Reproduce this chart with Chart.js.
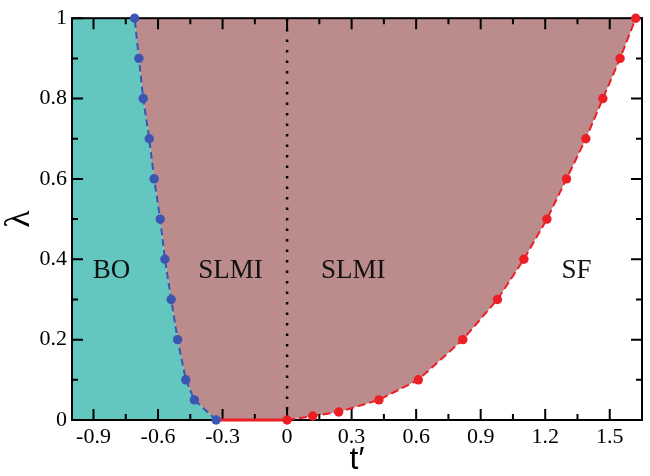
<!DOCTYPE html>
<html>
<head>
<meta charset="utf-8">
<script src="https://cdn.jsdelivr.net/npm/chart.js@4.4.0/dist/chart.umd.min.js"></script>
<style>
    html, body { margin: 0; padding: 0; background: #fff; }
    #wrap { width: 650px; height: 476px; }
</style>
</head>
<body>
<div id="wrap"><canvas id="phase-chart"></canvas></div>
<script>
// BO / SLMI boundary (blue)
const boLambda = [0, 0.05, 0.1, 0.2, 0.3, 0.4, 0.5, 0.6, 0.7, 0.8, 0.9, 1.0];
const boT = [-0.330, -0.431, -0.471, -0.509, -0.539, -0.568, -0.590, -0.618, -0.641, -0.669, -0.689, -0.709];

// SLMI / SF boundary (red)
const sfLambda = [0, 0.01, 0.02, 0.05, 0.1, 0.2, 0.3, 0.4, 0.5, 0.6, 0.7, 0.8, 0.9, 1.0];
const sfT = [0, 0.119, 0.240, 0.427, 0.610, 0.817, 0.978, 1.101, 1.208, 1.299, 1.389, 1.468, 1.548, 1.621];

const xTicks = [-0.9, -0.6, -0.3, 0, 0.3, 0.6, 0.9, 1.2, 1.5];
const xMinor = [-0.75, -0.45, -0.15, 0.15, 0.45, 0.75, 1.05, 1.35];
const yTicks = [0, 0.2, 0.4, 0.6, 0.8, 1];
const yMinor = [0.1, 0.3, 0.5, 0.7, 0.9];
const xRange = [-1, 1.65];
const yRange = [0, 1];

const regionNames = ['BO', 'SLMI', 'SLMI', 'SF'];
const regionT = [-0.816, -0.263, 0.308, 1.345];
const regionLambda = [0.37, 0.37, 0.37, 0.37];

const SERIF = '"Liberation Serif", "DejaVu Serif", serif';
const SANS = '"Liberation Sans", "DejaVu Sans", sans-serif';

const boPoints = boT.map((t, i) => ({ x: t, y: boLambda[i] }));
const sfPoints = sfT.map((t, i) => ({ x: t, y: sfLambda[i] }));

// closed shapes for the two shaded phases
const boShape = [{ x: xRange[0], y: yRange[0] }, ...boPoints, { x: xRange[0], y: yRange[1] }];
const slmiShape = [...boPoints.slice().reverse(), ...sfPoints];

const frameTicks = {
    id: 'frameTicks',
    afterDatasetDraw(chart, args) {
        if (chart.data.datasets[args.index].id !== 'boShape') return;
        const { ctx, chartArea: a } = chart;
        const xs = chart.scales.x, ys = chart.scales.y;
        ctx.save();
        ctx.strokeStyle = '#000';
        ctx.lineWidth = 2;
        ctx.beginPath();
        xTicks.concat(xMinor).forEach(v => {
            const len = xTicks.includes(v) ? 11 : 6;
            const px = xs.getPixelForValue(v);
            ctx.moveTo(px, a.bottom); ctx.lineTo(px, a.bottom - len);
            ctx.moveTo(px, a.top); ctx.lineTo(px, a.top + len);
        });
        yTicks.concat(yMinor).forEach(v => {
            const len = yTicks.includes(v) ? 11 : 6;
            const py = ys.getPixelForValue(v);
            ctx.moveTo(a.left, py); ctx.lineTo(a.left + len, py);
            ctx.moveTo(a.right, py); ctx.lineTo(a.right - len, py);
        });
        ctx.stroke();
        ctx.strokeRect(a.left, a.top, a.right - a.left, a.bottom - a.top);
        ctx.restore();
    },
    afterDatasetsDraw(chart) {
        const { ctx } = chart;
        ctx.save();
        ctx.fillStyle = '#111';
        ctx.font = '27px ' + SERIF;
        ctx.textAlign = 'center';
        ctx.textBaseline = 'middle';
        regionNames.forEach((name, i) => {
            ctx.fillText(name, chart.scales.x.getPixelForValue(regionT[i]), chart.scales.y.getPixelForValue(regionLambda[i]));
        });
        ctx.restore();
    }
};

new Chart(document.getElementById('phase-chart'), {
    type: 'scatter',
    data: {
        datasets: [
            {
                id: 'slmiShape',
                data: slmiShape,
                showLine: true,
                fill: 'shape',
                backgroundColor: 'rgb(188, 140, 140)',
                borderWidth: 0,
                pointRadius: 0,
                order: 6
            },
            {
                id: 'boShape',
                data: boShape,
                showLine: true,
                fill: 'shape',
                backgroundColor: 'rgb(99, 199, 192)',
                borderWidth: 0,
                pointRadius: 0,
                order: 5
            },
            {
                // t' = 0 guide
                data: [{ x: 0, y: yRange[0] }, { x: 0, y: yRange[1] }],
                showLine: true,
                borderColor: '#000',
                borderWidth: 2.5,
                borderDash: [2.5, 8],
                pointRadius: 0,
                order: 3
            },
            {
                // red segment along lambda = 0
                data: [boPoints[0], sfPoints[0]],
                showLine: true,
                borderColor: 'rgb(236, 30, 38)',
                borderWidth: 3,
                pointRadius: 0,
                clip: false,
                order: 2
            },
            {
                data: sfPoints,
                showLine: true,
                borderColor: 'rgb(236, 30, 38)',
                backgroundColor: 'rgb(236, 30, 38)',
                borderWidth: 2,
                borderDash: [8, 4],
                pointRadius: 4.7,
                pointBorderWidth: 0,
                clip: false,
                order: 1
            },
            {
                data: boPoints,
                showLine: true,
                borderColor: 'rgb(58, 86, 178)',
                backgroundColor: 'rgb(58, 86, 178)',
                borderWidth: 2,
                borderDash: [7, 4],
                pointRadius: 4.7,
                pointBorderWidth: 0,
                clip: false,
                order: 1
            }
        ]
    },
    options: {
        responsive: true,
        maintainAspectRatio: false,
        animation: false,
        layout: { padding: { top: 14, right: 8, left: 0, bottom: 0 } },
        plugins: {
            legend: { display: false },
            tooltip: { enabled: false }
        },
        scales: {
            x: {
                type: 'linear',
                min: xRange[0],
                max: xRange[1],
                grid: { display: false, drawTicks: false },
                border: { display: false },
                afterBuildTicks: s => { s.ticks = xTicks.map(v => ({ value: v })); },
                afterFit: s => { s.height = 56; },
                ticks: {
                    color: '#000',
                    padding: 4,
                    maxRotation: 0,
                    font: { family: SERIF, size: 22 },
                    callback: v => String(v)
                },
                title: {
                    display: true,
                    text: 't\u2032',
                    color: '#000',
                    font: { family: SANS, size: 32, lineHeight: 1 },
                    padding: { top: 0, bottom: 0 }
                }
            },
            y: {
                min: yRange[0],
                max: yRange[1],
                grid: { display: false, drawTicks: false },
                border: { display: false },
                afterBuildTicks: s => { s.ticks = yTicks.map(v => ({ value: v })); },
                afterFit: s => { s.width = 72; },
                ticks: {
                    color: '#000',
                    padding: 5,
                    font: { family: SERIF, size: 22 },
                    callback: v => String(v)
                },
                title: {
                    display: true,
                    text: '\u03bb',
                    color: '#000',
                    font: { family: SERIF, size: 36, lineHeight: 1 },
                    padding: { top: 2, bottom: 0 }
                }
            }
        }
    },
    plugins: [frameTicks]
});
</script>
</body>
</html>
